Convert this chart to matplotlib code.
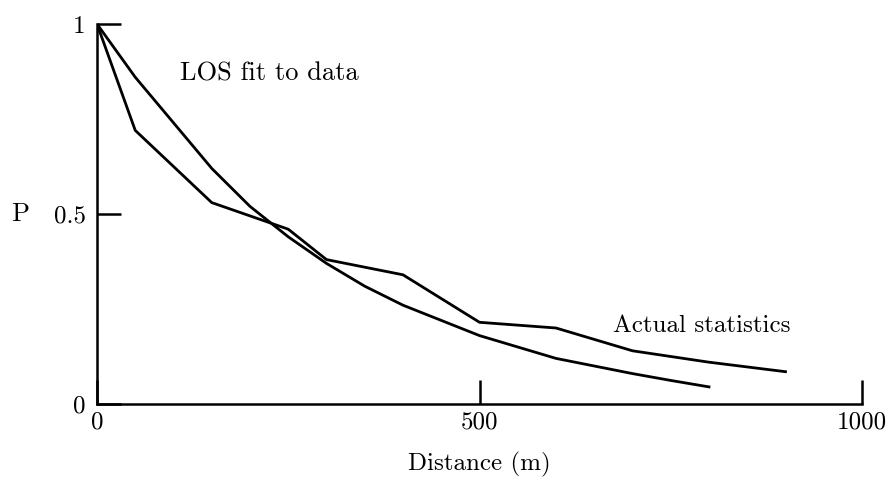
import matplotlib
matplotlib.use("Agg")
import matplotlib.pyplot as plt

# Data
actual_x = [0, 50, 150, 250, 300, 400, 500, 600, 700, 800, 900]
actual_p = [1.0, 0.72, 0.53, 0.46, 0.38, 0.34, 0.215, 0.20, 0.14, 0.11, 0.085]

fit_x = [0, 50, 100, 150, 200, 250, 300, 350, 400, 450, 500, 550, 600, 650, 700, 750, 800]
fit_p = [1.0, 0.86, 0.74, 0.62, 0.52, 0.44, 0.37, 0.31, 0.26, 0.22, 0.18, 0.15, 0.12, 0.10, 0.08, 0.062, 0.045]

x_ticks = [0, 500, 1000]
x_ticklabels = ["0", "500", "1000"]
y_ticks = [0, 0.5, 1]
y_ticklabels = ["0", "0.5", "1"]

font = "cmr10"
fs = 18

fig = plt.figure(figsize=(8.93, 4.93), dpi=100)
ax = fig.add_axes([97/893, 1-404/493, (862-97)/893, (404-24)/493])

ax.plot(actual_x, actual_p, color="black", lw=2.0, solid_joinstyle="round")
ax.plot(fit_x, fit_p, color="black", lw=2.0, solid_joinstyle="round")

ax.set_xlim(0, 1000)
ax.set_ylim(0, 1)
for s in ["top", "right"]:
    ax.spines[s].set_visible(False)
for s in ["left", "bottom"]:
    ax.spines[s].set_linewidth(1.8)

ax.set_xticks(x_ticks)
ax.set_xticklabels(x_ticklabels, fontfamily=font, fontsize=fs)
ax.set_yticks(y_ticks)
ax.set_yticklabels(y_ticklabels, fontfamily=font, fontsize=fs)
ax.tick_params(axis="both", direction="in", length=17, width=1.8, pad=5.5)
ax.tick_params(axis="y", pad=8)

ax.set_xlabel("Distance (m)", fontfamily=font, fontsize=fs, labelpad=13)
ax.text(-0.10, 0.5, "P", transform=ax.transAxes, fontfamily=font, fontsize=fs + 1,
        ha="center", va="center")

ax.text(108, 0.87, "LOS fit to data", fontfamily=font, fontsize=fs + 1, ha="left", va="center")
ax.text(675, 0.205, "Actual statistics", fontfamily=font, fontsize=fs, ha="left", va="center")

fig.savefig("out.png", dpi=100)
